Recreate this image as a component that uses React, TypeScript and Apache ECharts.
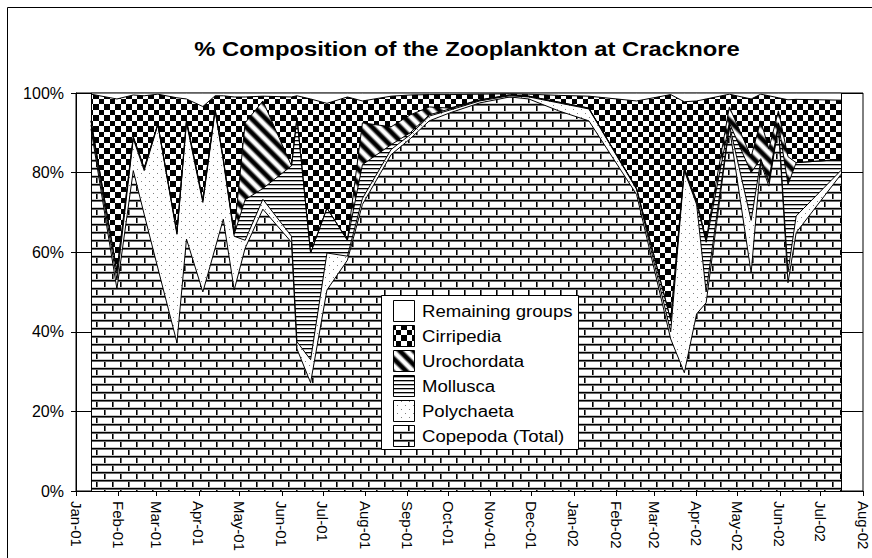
import React, { useEffect, useRef } from 'react';
import * as echarts from 'echarts';

const SAMPLE_DATES = [
  '2001-01-12', '2001-01-31', '2001-02-12', '2001-02-20', '2001-03-02', '2001-03-16', '2001-03-23',
  '2001-04-04', '2001-04-13', '2001-04-19', '2001-04-27', '2001-05-05', '2001-05-18', '2001-06-08',
  '2001-06-12', '2001-06-22', '2001-07-04', '2001-07-19', '2001-07-30', '2001-08-20', '2001-09-03',
  '2001-09-17', '2001-10-02', '2001-10-24', '2001-11-15', '2001-11-29', '2001-12-21', '2002-01-12',
  '2002-02-16', '2002-03-13', '2002-03-23', '2002-04-01', '2002-04-08', '2002-04-25', '2002-05-11',
  '2002-05-18', '2002-05-24', '2002-05-31', '2002-06-07', '2002-06-13', '2002-07-16',
];

const COPEPODA = [91, 50.8, 80.5, 69.5, 56, 37.3, 63.3, 50, 61, 68.3, 50.5, 61, 70.8, 62.5, 35.7, 27.2, 50.5, 58, 72, 84.5, 88.5, 93, 95, 97.5, 99, 98.5, 95.5, 93, 74.5, 38.2, 29.7, 44.5, 47.3, 91.5, 54.8, 82.5, 76.6, 91.7, 52.3, 64.9, 79.6];
const POLYCHAETA = [1, 2.2, 8, 11, 36, 27.2, 29.2, 22.5, 34.5, 14.7, 13.5, 2, 2.5, 1.5, 1.8, 5.8, 9.3, 1, 1.5, 1.3, 1, 1.2, 0.7, 0.5, 0.3, 0.5, 2, 3, 1.3, 1.8, 50.8, 27.5, 2.7, 0.5, 13.2, 0.5, 0.9, 0.3, 2.7, 4.2, 1];
const MOLLUSCA = [1, 2, 0.5, 0.5, 0.2, 0.5, 0.5, 0.5, 0.3, 0.3, 0.5, 10.2, 2.7, 17.7, 56.3, 26.8, 11.3, 4, 8.5, 1.2, 0.5, 0.3, 0.3, 0.2, 0.2, 0.2, 0.2, 0.2, 0.2, 3, 0.3, 0.5, 12.5, 0.5, 12, 0.5, 0.5, 0.5, 22, 13.4, 2.7];
const UROCHORDATA = [0, 0.3, 0, 0.2, 0, 0, 0.2, 0.1, 0.2, 0.2, 0.3, 19.3, 22, 0, 0, 0, 0, 0, 10.5, 4.5, 4.5, 2, 0.2, 0.1, 0, 0, 0, 0, 0, 0, 0.4, 0.5, 0.7, 4, 4, 9.5, 8, 3, 7, 0, 0];
const CIRRIPEDIA = [6.7, 43.2, 10.5, 18.1, 7.5, 33.8, 5.3, 23.5, 3.3, 15.8, 34.2, 6.5, 1.2, 17.3, 5.5, 38.7, 26.3, 36, 5.5, 7.7, 5, 3.1, 3.4, 1.4, 0.3, 0.5, 1.7, 3, 22, 56.6, 16.6, 25, 35.3, 3.2, 14.5, 6.7, 13.3, 3.3, 14.3, 15.9, 14.9];
const REMAINING = [0.3, 1.5, 0.5, 0.7, 0.3, 1.2, 1.5, 3.4, 0.7, 0.7, 1, 1, 0.8, 1, 0.7, 1.5, 2.6, 1, 2, 0.8, 0.5, 0.4, 0.4, 0.3, 0.2, 0.3, 0.6, 0.8, 2, 0.4, 2.2, 2, 1.5, 0.3, 1.5, 0.3, 0.7, 1.2, 1.7, 1.6, 1.8];

const MONTH_TICKS = [
  '2001-01-01', '2001-02-01', '2001-03-01', '2001-04-01', '2001-05-01', '2001-06-01', '2001-07-01',
  '2001-08-01', '2001-09-01', '2001-10-01', '2001-11-01', '2001-12-01', '2002-01-01', '2002-02-01',
  '2002-03-01', '2002-04-01', '2002-05-01', '2002-06-01', '2002-07-01', '2002-08-01',
];
const MONTH_LABELS = [
  'Jan-01', 'Feb-01', 'Mar-01', 'Apr-01', 'May-01', 'Jun-01', 'Jul-01', 'Aug-01', 'Sep-01', 'Oct-01',
  'Nov-01', 'Dec-01', 'Jan-02', 'Feb-02', 'Mar-02', 'Apr-02', 'May-02', 'Jun-02', 'Jul-02', 'Aug-02',
];

const TITLE = '% Composition of the Zooplankton at Cracknore';
const SERIES_NAMES = ['Copepoda (Total)', 'Polychaeta', 'Mollusca', 'Urochordata', 'Cirripedia', 'Remaining groups'];

const FONT = '"Liberation Sans", Arial, Helvetica, sans-serif';

function dayOf(s: string): number {
  const t = Date.UTC(+s.slice(0, 4), +s.slice(5, 7) - 1, +s.slice(8, 10));
  return Math.round((t - Date.UTC(2001, 0, 1)) / 86400000);
}

function makeCanvas(w: number, h: number, draw: (ctx: CanvasRenderingContext2D) => void) {
  const c = document.createElement('canvas');
  c.width = w;
  c.height = h;
  const ctx = c.getContext('2d')!;
  ctx.fillStyle = '#fff';
  ctx.fillRect(0, 0, w, h);
  draw(ctx);
  return c;
}

function buildPatterns() {
  const brick = makeCanvas(16, 16, (ctx) => {
    ctx.fillStyle = '#000';
    ctx.fillRect(0, 0, 16, 1);
    ctx.fillRect(0, 8, 16, 1);
    ctx.fillRect(0, 0, 1, 8);
    ctx.fillRect(8, 8, 1, 8);
    ctx.fillStyle = '#6a6a6a';
    ctx.fillRect(0, 1, 16, 1);
    ctx.fillRect(0, 9, 16, 1);
    ctx.fillRect(1, 1, 1, 7);
    ctx.fillRect(9, 9, 1, 7);
    ctx.fillStyle = '#c8c8c8';
    ctx.fillRect(0, 7, 16, 1);
    ctx.fillRect(0, 15, 16, 1);
  });
  const dots = makeCanvas(8, 8, (ctx) => {
    ctx.fillStyle = '#808080';
    ctx.fillRect(1, 1, 1, 1);
    ctx.fillRect(5, 5, 1, 1);
  });
  const hlines = makeCanvas(4, 4, (ctx) => {
    ctx.fillStyle = '#000';
    ctx.fillRect(0, 0, 4, 1);
    ctx.fillStyle = '#aaa';
    ctx.fillRect(0, 1, 4, 1);
  });
  const S = 14;
  const stripes = makeCanvas(S, S, (ctx) => {
    const img = ctx.createImageData(S, S);
    for (let y = 0; y < S; y++) {
      for (let x = 0; x < S; x++) {
        const t = ((((x - y) % S) + S) % S) / S;
        const v = Math.round(255 * Math.min(1, Math.max(0, 0.5 + 0.7 * Math.cos(2 * Math.PI * t))));
        const k = (y * S + x) * 4;
        img.data[k] = v; img.data[k + 1] = v; img.data[k + 2] = v; img.data[k + 3] = 255;
      }
    }
    ctx.putImageData(img, 0, 0);
  });
  const checker = makeCanvas(11, 11, (ctx) => {
    ctx.fillStyle = '#000';
    ctx.fillRect(0, 0, 5, 5);
    ctx.fillRect(5, 5, 6, 6);
  });
  const pat = (c: HTMLCanvasElement) => ({ image: c, repeat: 'repeat' as const });
  return [pat(brick), pat(dots), pat(hlines), pat(stripes), pat(checker), '#ffffff'];
}

export default function App() {
  const ref = useRef<HTMLDivElement>(null);

  useEffect(() => {
    if (!ref.current) return;
    const chart = echarts.init(ref.current, null, { renderer: 'svg' });
    const fills = buildPatterns();
    const days = SAMPLE_DATES.map(dayOf);
    const tickDays = MONTH_TICKS.map(dayOf);
    const groups = [COPEPODA, POLYCHAETA, MOLLUSCA, UROCHORDATA, CIRRIPEDIA, REMAINING];

    // 100% stacking: cumulative top of each group, bottom group first
    const tops: number[][] = [];
    groups.forEach((g, k) => {
      tops.push(g.map((v, i) => (k === 0 ? 0 : tops[k - 1][i]) + v));
    });
    const firstDay = days[0];
    const lastDay = days[days.length - 1];

    // Draw the highest layer first so each lower layer is painted over it.
    const series: any[] = [];
    for (let k = groups.length - 1; k >= 0; k--) {
      const s: any = {
        name: SERIES_NAMES[k],
        type: 'line',
        data: days.map((d, i) => [d, tops[k][i]]),
        symbol: 'none',
        showSymbol: false,
        silent: true,
        lineStyle: { color: '#000', width: 1 },
        areaStyle: { color: fills[k], opacity: 1, origin: 'start' },
        emphasis: { disabled: true },
      };
      if (k === 0) {
        s.markLine = {
          silent: true,
          symbol: ['none', 'none'],
          label: { show: false },
          lineStyle: { color: '#000', width: 1, type: 'solid' },
          data: [
            [{ coord: [firstDay, 0] }, { coord: [firstDay, 100] }],
            [{ coord: [lastDay, 0] }, { coord: [lastDay, 100] }],
          ],
        };
      }
      series.push(s);
    }

    const legendOrder = [5, 4, 3, 2, 1, 0];
    const legendChildren: any[] = [
      { type: 'rect', shape: { x: 381.5, y: 295.5, width: 197, height: 154 }, style: { fill: '#fff', stroke: '#000', lineWidth: 1 }, z: 100 },
    ];
    legendOrder.forEach((k, i) => {
      const y = 300.5 + i * 25;
      legendChildren.push({
        type: 'rect', shape: { x: 393.5, y, width: 21, height: 21 },
        style: { fill: fills[k], stroke: '#000', lineWidth: 1 }, z: 101,
      });
      legendChildren.push({
        type: 'text', x: 422, y: y + 11, scaleX: 1.16, z: 101,
        style: { text: SERIES_NAMES[k], fill: '#000', font: `16px ${FONT}`, textAlign: 'left', textVerticalAlign: 'middle' },
      });
    });

    const option: any = {
      animation: false,
      backgroundColor: '#fff',
      grid: { left: 76, right: 9, top: 93, bottom: 67, show: true, borderColor: '#000', borderWidth: 1, backgroundColor: 'transparent' },
      xAxis: {
        type: 'value',
        min: 0,
        max: tickDays[tickDays.length - 1],
        axisLine: { show: true, lineStyle: { color: '#000', width: 1 } },
        axisTick: { show: true, length: 5, customValues: tickDays, lineStyle: { color: '#000' } },
        axisLabel: {
          customValues: tickDays,
          rotate: -90,
          margin: 10,
          color: '#000',
          fontSize: 15,
          fontFamily: FONT,
          formatter: (v: number) => {
            const i = tickDays.indexOf(Math.round(v));
            return i >= 0 ? MONTH_LABELS[i] : '';
          },
        },
        splitLine: { show: false },
      },
      yAxis: {
        type: 'value',
        min: 0,
        max: 100,
        interval: 20,
        axisLine: { show: true, lineStyle: { color: '#000', width: 1 } },
        axisTick: { show: true, length: 5, lineStyle: { color: '#000' } },
        axisLabel: { formatter: '{value}%', color: '#000', fontSize: 16, fontFamily: FONT, margin: 12 },
        splitLine: { show: true, lineStyle: { color: '#000', width: 1 } },
      },
      series,
      graphic: [
        { type: 'rect', shape: { x: 7.5, y: 7.5, width: 880, height: 600 }, style: { fill: 'none', stroke: '#000', lineWidth: 1 }, z: 50, silent: true },
        {
          type: 'text', x: 467, y: 49, scaleX: 1.16, z: 60,
          style: { text: TITLE, fill: '#000', font: `bold 20.5px ${FONT}`, textAlign: 'center', textVerticalAlign: 'middle' },
        },
        { type: 'group', children: legendChildren },
      ],
    };
    chart.setOption(option);
    return () => chart.dispose();
  }, []);

  return <div ref={ref} style={{ position: 'fixed', left: 0, top: 0, width: 872, height: 558 }} />;
}
